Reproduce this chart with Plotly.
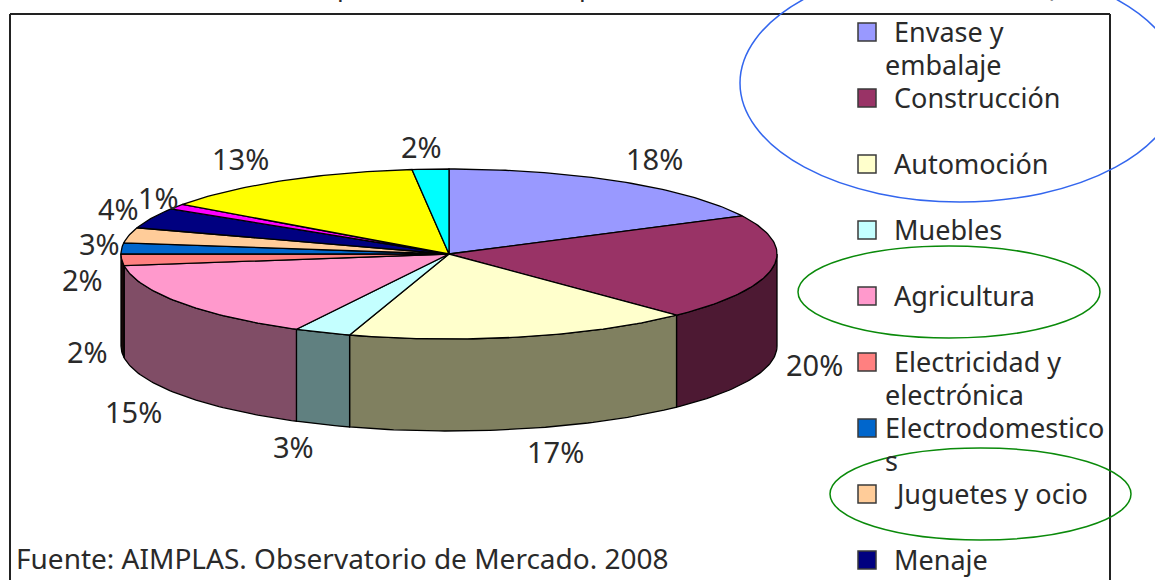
import numpy as np
import plotly.graph_objects as go

# ---- data ----
values = [17.6, 20.2, 17.1, 2.8, 15.1, 2.2, 2.1, 2.9, 3.9, 1.0, 13.3, 1.8]
value_labels = ["18%", "20%", "17%", "3%", "15%", "2%", "2%", "3%", "4%", "1%", "13%", "2%"]
top_colors = ["#9999FF", "#993366", "#FFFFCC", "#C4FFFF", "#FF99CC", "#FF8080",
              "#0066CC", "#FFCC99", "#000080", "#FF00FF", "#FFFF00", "#00FFFF"]
side_colors = ["#4D4D80", "#4D1933", "#808060", "#608080", "#804D66", "#180808",
               "#003366", "#806650", "#000040", "#800080", "#808000", "#008080"]
legend_lines = [["Envase y", "embalaje"], ["Construcción"], ["Automoción"], ["Muebles"],
                ["Agricultura"], ["Electricidad y", "electrónica"],
                ["Electrodomestico", "s"], ["Juguetes y ocio"], ["Menaje"]]
source = "Fuente: AIMPLAS. Observatorio de Mercado. 2008"

# ---- layout constants ----
CX, CY, RX, RY, DEPTH = 449, 254, 328, 85, 92
W, H = 1155, 580
FONT = "Noto Sans"
TXT = "#2a2a2a"
# label position relative to the wedge rim (px), tuned against the reference
nudges = [(33, -23), (42, 96), (32, 115), (-29, 114), (-47, 109), (-34, 92),
          (-39, 31), (-30, 8), (-33, -10), (-18, -9), (-42, -22), (-9, -23)]


def rim(theta_deg, drop=0):
    t = np.radians(theta_deg)
    return CX + RX * np.sin(t), CY - RY * np.cos(t) + drop


fig = go.Figure()
edges = np.concatenate([[0], np.cumsum(values)]) / sum(values) * 360

# side walls (front half only)
for i in range(len(values)):
    a, b = max(edges[i], 90), min(edges[i + 1], 270)
    if b <= a:
        continue
    th = np.linspace(a, b, max(int(b - a) + 2, 2))
    x1, y1 = rim(th)
    x2, y2 = rim(th[::-1], DEPTH)
    fig.add_trace(go.Scatter(x=np.r_[x1, x2, x1[0]], y=np.r_[y1, y2, y1[0]], mode="lines",
                             fill="toself", fillcolor=side_colors[i],
                             line=dict(color="#000000", width=1.3), hoverinfo="skip"))
# top faces
for i in range(len(values)):
    a, b = edges[i], edges[i + 1]
    th = np.linspace(a, b, int(b - a) + 2)
    x1, y1 = rim(th)
    fig.add_trace(go.Scatter(x=np.r_[CX, x1, CX], y=np.r_[CY, y1, CY], mode="lines",
                             fill="toself", fillcolor=top_colors[i],
                             line=dict(color="#000000", width=1.3), hoverinfo="skip"))

annotations = []


def note(x, y, text, size=29, xanchor="left", xshift=0, yshift=0, color=TXT, yref="y"):
    annotations.append(dict(x=x, y=y, yref=yref, text=text, showarrow=False, xanchor=xanchor, yanchor="middle",
                            xshift=xshift, yshift=yshift, font=dict(family=FONT, size=size, color=color)))


# value labels
for i, lab in enumerate(value_labels):
    mid = (edges[i] + edges[i + 1]) / 2
    x, y = rim(mid)
    dx, dy = nudges[i]
    note(x, y, lab, xanchor="center", xshift=dx, yshift=-dy)

# legend
shapes = []
for i, lines in enumerate(legend_lines):
    yc = 32 + 66 * i
    shapes.append(dict(type="rect", x0=858, x1=876, y0=yc - 9, y1=yc + 9, fillcolor=top_colors[i],
                       line=dict(color="#3a3a3a", width=1.5)))
    for j, line in enumerate(lines):
        xpos = 892 if (j == 0 and lines[0] != "Electrodomestico") else 883
        note(xpos, yc + j * 33 - 1, line, size=27)

note(14, 558, source, size=28)
# tails of the clipped title
for x, t in [(345, "p"), (587, "p"), (1050, "(")]:
    note(x, 1 + 14 / H, t, size=26, xanchor="center", yref="paper")

# frame
for x0, y0, x1, y1 in [(10, 14, 1110, 14), (10, 14, 10, 580), (1110, 14, 1110, 580)]:
    shapes.append(dict(type="line", x0=x0, y0=y0, x1=x1, y1=y1, line=dict(color="#222222", width=2)))

# hand-drawn ellipses
shapes += [
    dict(type="circle", x0=740, x1=1180, y0=-36, y1=202, line=dict(color="#3366EE", width=1.5)),
    dict(type="circle", x0=798, x1=1100, y0=246, y1=338, line=dict(color="#0A8A0A", width=1.5)),
    dict(type="circle", x0=830, x1=1131, y0=448, y1=540, line=dict(color="#0A8A0A", width=1.5)),
]

fig.update_layout(
    width=W, height=H, margin=dict(l=0, r=0, t=0, b=0), showlegend=False,
    paper_bgcolor="white", plot_bgcolor="white", shapes=shapes, annotations=annotations,
    xaxis=dict(range=[0, W], visible=False, fixedrange=True),
    yaxis=dict(range=[H, 0], visible=False, fixedrange=True),
)
fig.write_html("out.html", config=dict(displayModeBar=False),
               post_script="document.body.style.margin='0';document.body.style.overflow='hidden';")
